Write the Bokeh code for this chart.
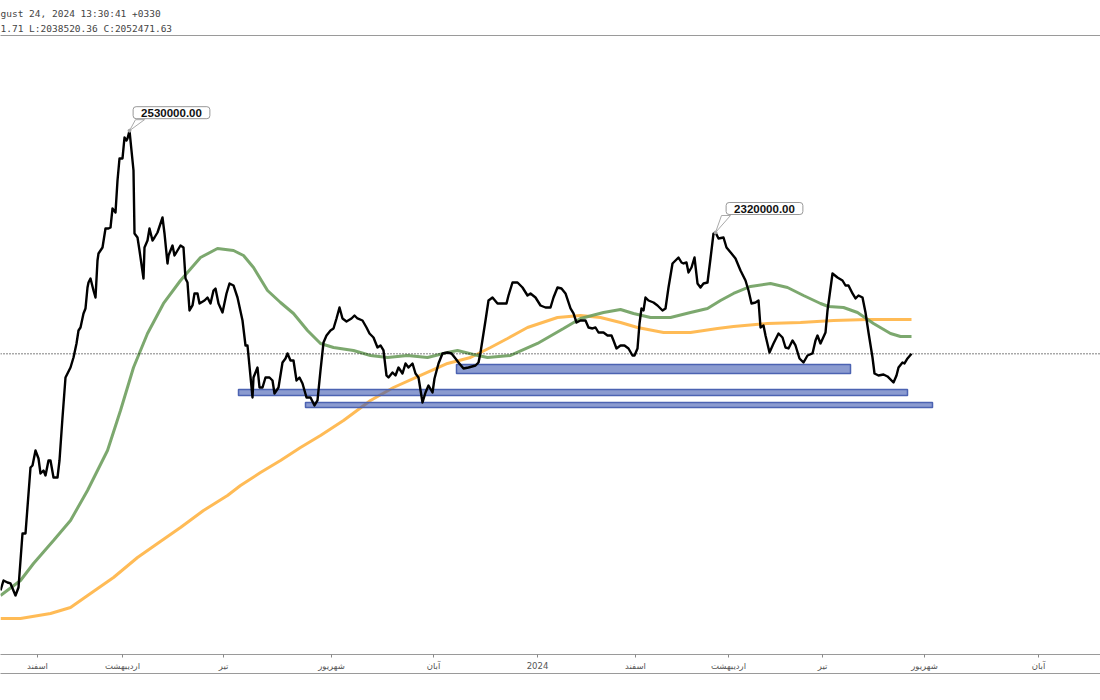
from bokeh.plotting import figure
from bokeh.models import Range1d, LinearAxis, FixedTicker, Span, Label, Title, Grid
from bokeh.embed import file_html
from bokeh.resources import INLINE

# ---- data (x = session index along the time axis, prices in thousands) ----
price_x = [0,3,7,10,15,18,22,25,30,32,35,38,40,43,45,48,50,53,57,59,62,65,70,73,76,78,80,83,85,87,88,90,93,95,97,98,
           102,105,108,110,112,115,117,119,122,124,126,127,129,133,134,137,139,143,144,147,149,152,154,157,162,164,167,168,
           172,174,177,180,183,185,187,189,192,194,197,199,204,207,210,213,215,218,222,226,229,233,237,242,245,247,252,253,
           257,259,262,265,269,272,274,278,282,285,287,290,293,296,299,302,306,310,314,317,320,323,326,330,333,336,339,342,
           346,351,354,357,362,366,369,373,377,380,383,386,388,392,395,398,402,405,408,412,415,418,422,425,428,432,434,438,
           442,447,451,455,458,463,468,475,478,480,485,488,492,497,502,506,508,512,517,522,527,530,535,540,545,550,553,557,
           561,565,570,573,576,580,585,588,592,595,598,603,607,611,613,616,620,624,628,632,634,637,639,641,643,645,648,653,
           657,662,665,668,672,675,678,681,683,686,688,691,694,697,700,703,707,710,713,715,718,723,726,731,735,740,745,748,
           751,755,758,760,763,765,769,773,778,782,785,788,792,795,799,803,807,812,815,817,820,825,827,832,837,842,845,848,
           852,855,858,862,865,868,872,874,878,883,887,893,896,898,902,904,907,911]
close_k = [1546.0,1567.4,1563.1,1561.0,1535.3,1552.4,1668.0,1668.0,1809.2,1813.5,1845.6,1828.5,1796.4,1802.8,1792.1,1824.2,
           1824.2,1787.8,1787.8,1824.2,1916.2,2001.8,2023.2,2044.6,2074.6,2102.4,2108.8,2138.8,2149.5,2194.4,2205.1,2213.7,
           2188.0,2173.0,2252.2,2267.2,2280.0,2320.7,2320.7,2322.8,2363.5,2354.9,2423.4,2470.5,2470.5,2515.4,2509.0,2513.3,
           2530.0,2444.8,2310.0,2301.4,2273.6,2213.7,2280.0,2295.0,2320.7,2295.0,2301.4,2312.1,2344.2,2310.0,2245.8,2262.9,
           2284.3,2262.9,2273.6,2284.3,2280.0,2213.7,2205.1,2145.2,2155.9,2181.6,2181.6,2160.2,2166.6,2173.0,2160.2,2188.0,
           2192.3,2160.2,2140.9,2181.6,2203.0,2198.7,2173.0,2123.8,2070.3,2070.3,1959.0,2001.8,2023.2,1980.4,1980.4,2001.8,
           2001.8,1995.4,1967.6,1980.4,2033.9,2042.5,2053.2,2038.2,2038.2,1995.4,2001.8,1989.0,1959.0,1959.0,1941.9,1952.6,
           2016.8,2076.7,2091.7,2102.4,2106.7,2128.1,2151.6,2128.1,2121.7,2128.1,2134.5,2128.1,2123.8,2108.8,2096.0,2087.4,
           2066.0,2070.3,2059.6,2006.1,2001.8,2012.5,2006.1,2023.2,2010.4,2031.8,2023.2,2031.8,2010.4,2001.8,1948.3,1969.7,
           1984.7,1969.7,1999.7,2031.8,2053.2,2055.3,2053.2,2042.5,2033.9,2021.1,2023.2,2027.5,2033.9,2055.3,2123.8,2166.6,
           2173.0,2160.2,2160.2,2160.2,2177.3,2205.1,2205.1,2194.4,2177.3,2181.6,2173.0,2155.9,2151.6,2151.6,2173.0,2194.4,
           2192.3,2181.6,2149.5,2138.8,2119.5,2123.8,2123.8,2108.8,2106.7,2108.8,2098.1,2098.1,2091.7,2091.7,2081.0,2063.9,
           2070.3,2070.3,2063.9,2048.9,2048.9,2063.9,2117.4,2149.5,2145.2,2173.0,2166.6,2162.3,2155.9,2145.2,2149.5,2194.4,
           2245.8,2252.2,2258.6,2247.9,2245.8,2247.9,2226.5,2237.2,2258.6,2203.0,2194.4,2203.0,2205.1,2256.5,2310.0,2312.1,
           2299.3,2301.4,2280.0,2267.2,2256.5,2230.8,2209.4,2188.0,2160.2,2162.3,2166.6,2108.8,2113.1,2091.7,2055.3,2074.6,
           2096.0,2087.4,2066.0,2063.9,2081.0,2070.3,2042.5,2033.9,2048.9,2053.2,2081.0,2091.7,2074.6,2098.1,2145.2,2224.4,
           2215.8,2209.4,2198.7,2198.7,2181.6,2170.9,2177.3,2173.0,2140.9,2098.1,2044.6,2010.4,2006.1,2008.2,2004.0,1991.1,
           2006.1,2023.2,2033.9,2031.8,2042.5,2052.47163]

ma_fast_x = [0,20,33,53,70,87,107,120,133,147,163,180,200,217,233,243,253,267,280,293,307,320,333,353,370,387,407,427,447,
             457,473,487,510,537,563,580,603,620,633,650,670,690,707,720,733,750,770,787,803,820,828,843,857,873,890,900,911]
ma_fast_k = [1535.3,1567.4,1603.8,1653.0,1695.8,1760.0,1845.6,1931.2,2023.2,2096.0,2160.2,2209.4,2258.6,2277.9,2273.6,
             2262.9,2237.2,2188.0,2162.3,2138.8,2102.4,2074.6,2066.0,2059.6,2048.9,2044.6,2048.9,2044.6,2055.3,2059.6,
             2051.0,2044.6,2048.9,2074.6,2106.7,2128.1,2140.9,2147.3,2138.8,2130.2,2130.2,2140.9,2149.5,2166.6,2181.6,
             2196.6,2203.0,2194.4,2177.3,2160.2,2153.8,2151.6,2140.9,2117.4,2096.0,2089.6,2089.6]

ma_slow_x = [0,20,50,70,90,113,137,157,180,203,227,240,260,280,300,320,343,370,393,420,447,470,490,507,527,557,580,600,
             620,637,663,690,717,733,767,800,833,867,911]
ma_slow_k = [1486.1,1486.1,1496.8,1509.6,1539.6,1573.8,1616.6,1646.6,1680.8,1717.2,1749.3,1770.7,1798.5,1824.2,1852.0,
             1877.7,1909.8,1952.6,1980.4,2006.1,2031.8,2044.6,2066.0,2085.3,2108.8,2130.2,2134.5,2130.2,2119.5,2108.8,
             2098.1,2098.1,2106.7,2111.0,2117.4,2119.5,2123.8,2125.9,2125.9]

zone_left = [456, 238, 305]
zone_right = [850, 907, 932]
zone_bottom_k = [2010.4, 1963.3, 1937.6]
zone_top_k = [2029.6, 1976.1, 1948.3]

tick_pos = [37, 122, 223, 331, 433, 537, 635, 728, 822, 924, 1038]
tick_labels = ["اسفند", "اردیبهشت", "تیر", "شهریور", "آبان", "2024",
               "اسفند", "اردیبهشت", "تیر", "شهریور", "آبان"]

peak_labels = ["2530000.00", "2320000.00"]

header_line1 = "gust 24, 2024 13:30:41 +0330"
header_line2 = "1.71 L:2038520.36 C:2052471.63"

close = [v * 1000 for v in close_k]
ma_fast = [v * 1000 for v in ma_fast_k]
ma_slow = [v * 1000 for v in ma_slow_k]
zone_bottom = [v * 1000 for v in zone_bottom_k]
zone_top = [v * 1000 for v in zone_top_k]
last_close = close[-1]

half = len(close_k) // 2
peak_idx = [close_k.index(max(close_k[:half])), close_k.index(max(close_k[half:]), half)]

# ---- figure ----
Y0, Y1 = 1409000, 2733700
FRAME_H = 619
per_px = (Y1 - Y0) / FRAME_H

p = figure(width=1100, height=700, output_backend="svg", toolbar_location=None,
           x_range=Range1d(0, 1100), y_range=Range1d(Y0, Y1),
           x_axis_location=None, y_axis_location=None,
           min_border_left=0, min_border_right=0, min_border_top=35, min_border_bottom=46,
           outline_line_color=None, background_fill_color="white", border_fill_color="white")
p.center = [r for r in p.center if not isinstance(r, Grid)]

# top border line (frame top)
top_axis = LinearAxis(ticker=FixedTicker(ticks=[]), axis_line_color="#9a9a9a", axis_line_width=1,
                       major_tick_line_color=None, minor_tick_line_color=None,
                       major_label_text_font_size="0px")
p.add_layout(top_axis, "above")

# header texts
t2 = Title(text=header_line2, align="left", offset=0, standoff=3, text_font="DejaVu Sans Mono",
           text_font_size="9.5px", text_font_style="normal", text_color="#444444")
t1 = Title(text=header_line1, align="left", offset=0, standoff=2, text_font="DejaVu Sans Mono",
           text_font_size="9.5px", text_font_style="normal", text_color="#444444")
p.add_layout(t2, "above")
p.add_layout(t1, "above")

# x axis
xa = LinearAxis(ticker=FixedTicker(ticks=tick_pos),
                major_label_overrides={t: l for t, l in zip(tick_pos, tick_labels)},
                axis_line_color="#9a9a9a", major_tick_line_color="#888888",
                major_tick_out=3, major_tick_in=0, minor_tick_line_color=None,
                major_label_standoff=3, major_label_text_font="DejaVu Sans",
                major_label_text_font_size="8.5px", major_label_text_color="#555555")
p.add_layout(xa, "below")
xb = LinearAxis(ticker=FixedTicker(ticks=[]), axis_line_color="#9a9a9a",
                major_tick_line_color=None, minor_tick_line_color=None,
                major_label_text_font_size="0px")
p.add_layout(xb, "below")

# moving averages
p.line(ma_slow_x, ma_slow, line_color="#FFB74D", line_width=3, line_alpha=0.95)
p.line(ma_fast_x, ma_fast, line_color="#6E9F5E", line_width=3, line_alpha=0.9)

# support zones
p.quad(left=zone_left, right=zone_right, bottom=zone_bottom, top=zone_top,
       fill_color="#3E58B1", fill_alpha=0.6, line_color="#4C63B2", line_width=1.5)

# close line
p.line(price_x, close, line_color="black", line_width=2.4, line_join="round")

# last price dotted line
p.add_layout(Span(location=last_close, dimension="width", line_color="black",
                  line_width=1, line_dash="1 2"))

# peak callouts
offsets = [(42, 18), (49, 24)]
for i, txt, (dx, dy) in zip(peak_idx, peak_labels, offsets):
    px_, py_ = price_x[i], close[i]
    tail_x = [px_, px_ + 6, px_ + 15]
    tail_y = [py_, py_ + (dy - 7) * per_px, py_ + (dy - 7) * per_px]
    p.patch(tail_x, tail_y, fill_color="white", line_color="#aaaaaa", line_width=1)
    p.scatter([px_], [py_], size=3, color="#aaaaaa")
    p.add_layout(Label(x=px_, y=py_, x_offset=dx, y_offset=dy, text=txt,
                       text_font="Liberation Sans", text_font_size="11.5px", text_font_style="bold",
                       text_color="#111111", text_align="center", text_baseline="middle",
                       background_fill_color="white", border_line_color="#999999", border_line_width=1,
                       padding=dict(left=8, right=8, top=2, bottom=2), border_radius=3))

open("out.html", "w").write(file_html(p, INLINE))
